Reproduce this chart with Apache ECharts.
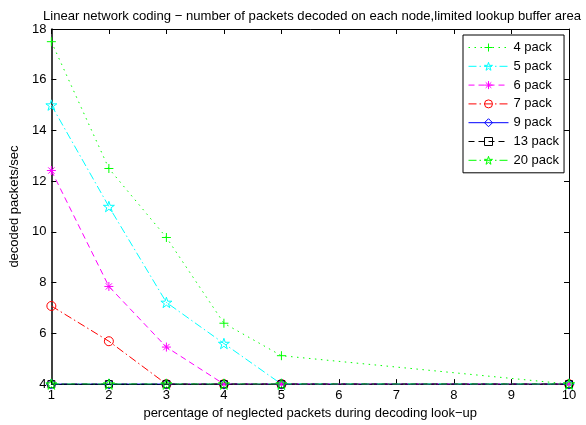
<!DOCTYPE html>
<html>
<head>
<meta charset="utf-8">
<script src="https://cdn.jsdelivr.net/npm/echarts@6/dist/echarts.min.js"></script>
<style>
  html, body { margin: 0; padding: 0; background: #fff; }
  #chart { width: 586px; height: 425px; }
</style>
</head>
<body>
<div id="chart"></div>
<script>
// Percentage of neglected packets during decoding look-up
const xValues = [1, 2, 3, 4, 5, 10];

// Decoded packets/sec for each packet count
const pack4  = [17.5, 12.5, 9.78, 6.4, 5.12, 4];
const pack5  = [15.0, 11.0, 7.22, 5.6, 4, 4];
const pack6  = [12.42, 7.85, 5.46, 4, 4, 4];
const pack7  = [7.08, 5.69, 4, 4, 4, 4];
const pack9  = [4, 4, 4, 4, 4, 4];
const pack13 = [4, 4, 4, 4, 4, 4];
const pack20 = [4, 4, 4, 4, 4, 4];

const seriesNames = ['4 pack', '5 pack', '6 pack', '7 pack', '9 pack', '13 pack', '20 pack'];
const xTicks = [1, 2, 3, 4, 5, 6, 7, 8, 9, 10];
const yTicks = [4, 6, 8, 10, 12, 14, 16, 18];

const FONT = 'Liberation Sans';
const CLEAR = 'rgba(0,0,0,0)';

// Marker shapes
const PLUS = 'path://M0,5L10,5M5,0L5,10';
const STAR = 'path://M50,0L61.23,34.55L97.55,34.55L68.16,55.9L79.39,90.45L50,69.1L20.61,90.45L31.84,55.9L2.45,34.55L38.77,34.55Z';
const ASTER = 'path://M5,0L5,10M0,5L10,5M1.5,1.5L8.5,8.5M8.5,1.5L1.5,8.5';

const styles = [
  { color: '#00ff00', dash: [1.5, 4.5],       symbol: PLUS,      size: 9 },
  { color: '#00ffff', dash: [8, 3, 1.5, 3],   symbol: STAR,      size: 11 },
  { color: '#ff00ff', dash: [6, 4],           symbol: ASTER,     size: 9 },
  { color: '#ff0000', dash: [8, 3, 1.5, 3],   symbol: 'circle',  size: 9 },
  { color: '#0000ff', dash: 'solid',          symbol: 'diamond', size: 10 },
  { color: '#000000', dash: [6, 4],           symbol: 'rect',    size: 7 },
  { color: '#00ff00', dash: [8, 3, 1.5, 3],   symbol: STAR,      size: 11 }
];
const values = [pack4, pack5, pack6, pack7, pack9, pack13, pack20];

function pairs(ys) {
  return xValues.map((x, i) => [x, ys[i]]);
}

const series = seriesNames.map((name, k) => {
  const s = styles[k];
  return {
    name: name,
    type: 'line',
    data: pairs(values[k]),
    symbol: s.symbol,
    symbolSize: s.size,
    symbolKeepAspect: true,
    showAllSymbol: true,
    lineStyle: { color: s.color, width: 1, type: s.dash },
    itemStyle: { color: CLEAR, borderColor: s.color, borderWidth: 1 },
    emphasis: { disabled: true },
    animation: false
  };
});

const legendData = seriesNames.map((name, k) => {
  const s = styles[k];
  return {
    name: name,
    itemStyle: { color: CLEAR, borderColor: s.color, borderWidth: 1 },
    lineStyle: { color: s.color, width: 1, type: s.dash }
  };
});

const axisText = { color: '#000', fontFamily: FONT, fontSize: 13 };

const option = {
  backgroundColor: '#fff',
  animation: false,
  title: {
    text: 'Linear network coding \u2212 number of packets decoded on each node,limited lookup buffer area',
    left: 307,
    textAlign: 'center',
    top: 5,
    textStyle: { color: '#000', fontFamily: FONT, fontSize: 13.1, fontWeight: 'normal' }
  },
  legend: {
    orient: 'vertical',
    left: 463,
    top: 35,
    padding: [6, 5, 6, 5],
    itemWidth: 40,
    itemHeight: 10,
    itemGap: 5.8,
    borderColor: '#000',
    borderWidth: 1,
    backgroundColor: '#fff',
    textStyle: { color: '#000', fontFamily: FONT, fontSize: 13 },
    data: legendData
  },
  grid: { left: 49, right: 17, top: 29, bottom: 35, containLabel: false },
  xAxis: [
    {
      type: 'value', min: 1, max: 10, interval: 1,
      name: 'percentage of neglected packets during decoding look\u2212up',
      nameLocation: 'middle', nameGap: 18,
      nameTextStyle: { color: '#000', fontFamily: FONT, fontSize: 13 },
      axisLine: { show: true, lineStyle: { color: '#000', width: 1 } },
      axisTick: { show: true, inside: true, length: 5, lineStyle: { color: '#000' } },
      axisLabel: Object.assign({ margin: 5, formatter: v => xTicks.includes(v) ? String(v) : '' }, axisText),
      splitLine: { show: false }
    },
    {
      type: 'value', min: 1, max: 10, interval: 1, position: 'top',
      axisLine: { show: true, lineStyle: { color: '#000', width: 1 } },
      axisTick: { show: true, inside: true, length: 5, lineStyle: { color: '#000' } },
      axisLabel: { show: false },
      splitLine: { show: false }
    }
  ],
  yAxis: [
    {
      type: 'value', min: 4, max: 18, interval: 2,
      name: 'decoded packets/sec',
      nameLocation: 'middle', nameGap: 30,
      nameTextStyle: { color: '#000', fontFamily: FONT, fontSize: 13 },
      axisLine: { show: true, lineStyle: { color: '#000', width: 1.5 } },
      axisTick: { show: true, inside: true, length: 5, lineStyle: { color: '#000' } },
      axisLabel: Object.assign({ margin: 5, formatter: v => yTicks.includes(v) ? String(v) : '' }, axisText),
      splitLine: { show: false }
    },
    {
      type: 'value', min: 4, max: 18, interval: 2, position: 'right',
      axisLine: { show: true, lineStyle: { color: '#000', width: 1 } },
      axisTick: { show: true, inside: true, length: 5, lineStyle: { color: '#000' } },
      axisLabel: { show: false },
      splitLine: { show: false }
    }
  ],
  series: series
};

const chart = echarts.init(document.getElementById('chart'), null, { renderer: 'canvas' });
chart.setOption(option);
</script>
</body>
</html>
